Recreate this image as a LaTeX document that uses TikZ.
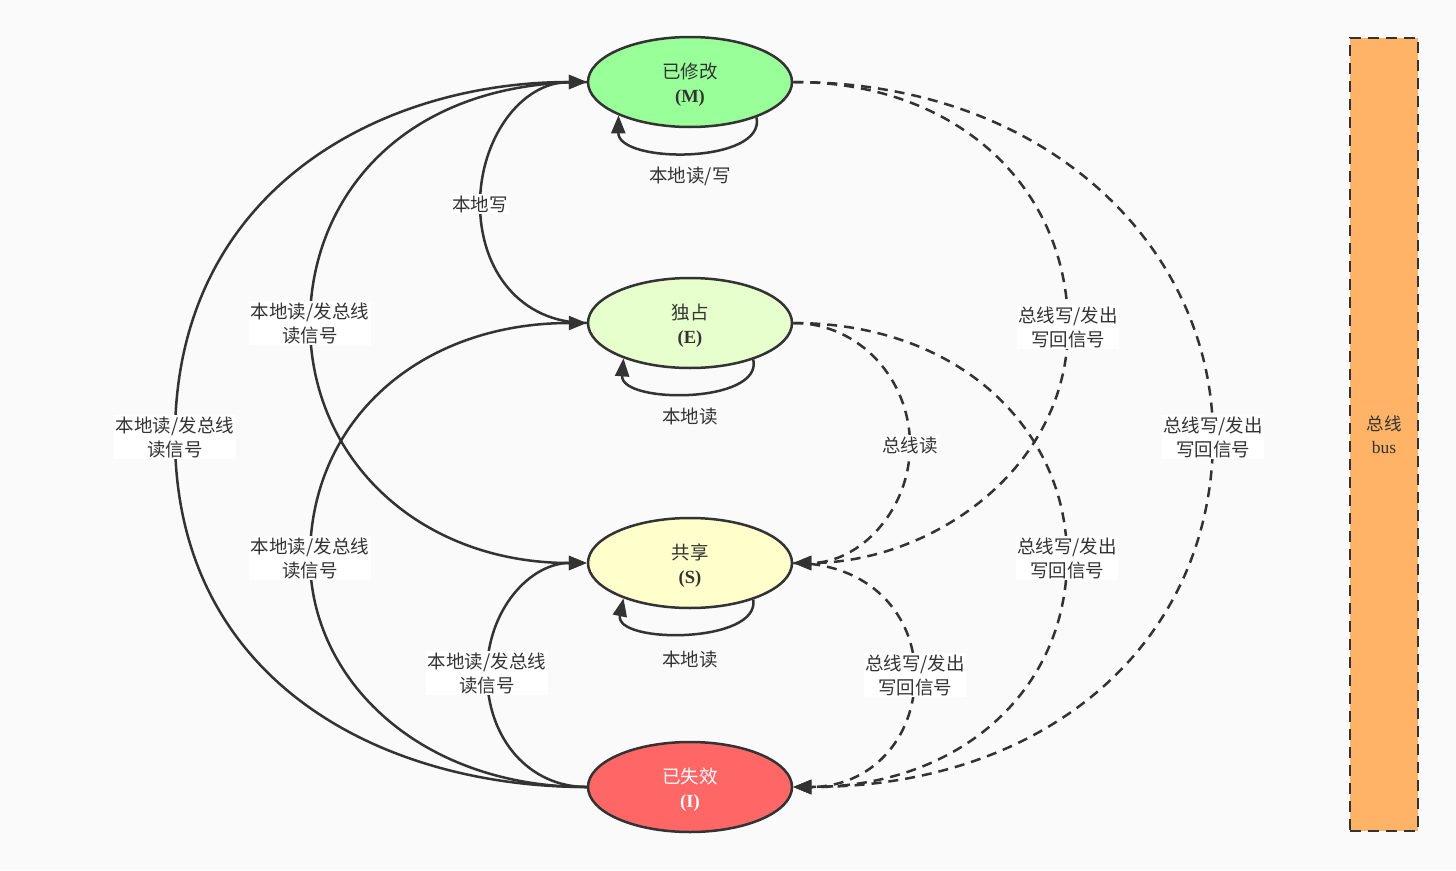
\documentclass[tikz,border=0pt]{standalone}
\usepackage{fontspec}
\setmainfont{Liberation Serif}
\newfontfamily\cjk{Noto Sans CJK SC}
\usetikzlibrary{shapes.geometric,arrows.meta}
\definecolor{bgc}{HTML}{FAFAFA}
\definecolor{linec}{HTML}{333333}
\definecolor{textc}{HTML}{333333}
\definecolor{mfill}{HTML}{99FF99}
\definecolor{efill}{HTML}{E6FFCC}
\definecolor{sfill}{HTML}{FFFFCC}
\definecolor{ifill}{HTML}{FF6666}
\definecolor{busfill}{HTML}{FFB366}
\begin{document}
\begin{tikzpicture}[x=1pt,y=-1pt,
  state/.style={ellipse, draw=linec, line width=2.5pt, minimum width=204pt, minimum height=90pt,
    inner sep=0pt, align=center, font=\fontsize{18.5}{24}\selectfont, text=textc},
  edgeline/.style={line width=2.5pt, draw=linec, -{Triangle[length=18pt,width=14pt]}},
  dedge/.style={edgeline, dash pattern=on 10pt off 7pt},
  lbl/.style={fill=white, inner sep=1.5pt, align=center, font=\fontsize{18.5}{24}\selectfont\cjk, text=textc},
  looplbl/.style={inner sep=1pt, align=center, font=\fontsize{18.5}{24}\selectfont\cjk, text=textc},
  busbox/.style={rectangle, draw=linec, line width=2.6pt, dash pattern=on 11pt off 7pt, fill=busfill,
    minimum width=68pt, minimum height=793pt, inner sep=0pt, align=center,
    font=\fontsize{17.5}{23}\selectfont, text=textc}
]
\fill[bgc] (0,0) rectangle (1456,870);
\useasboundingbox (0,0) rectangle (1456,870);

\node[state, fill=mfill] (M) at (690,82) {\rule{0pt}{20pt}{\cjk 已修改}\\\textbf{(M)}};
\node[state, fill=efill] (E) at (690,323) {\rule{0pt}{20pt}{\cjk 独占}\\\textbf{(E)}};
\node[state, fill=sfill] (S) at (690,563) {\rule{0pt}{20pt}{\cjk 共享}\\\textbf{(S)}};
\node[state, fill=ifill, text=white] (I) at (690,787) {\rule{0pt}{20pt}{\cjk 已失效}\\\textbf{(I)}};

\node[busbox] (bus) at (1384,434.5) {\rule{0pt}{16pt}{\cjk 总线}\\bus};

% self loops
\draw[edgeline] (M.332) .. controls (766,164) and (618,164) .. (M.205);
\node[looplbl] (lm) at (690,176) {本地读/写};
\draw[edgeline] (E.330) .. controls (763,404) and (620,404) .. (E.208);
\node[looplbl] (le) at (690,417) {本地读};
\draw[edgeline] (S.330) .. controls (760,644) and (614,644) .. (S.208);
\node[looplbl] (ls) at (690,660) {本地读};

% solid edges on the left
\draw[edgeline] (I.west) .. controls (380,787) and (175,680) .. (175,437)
  node[lbl] (l1) {本地读/发总线\\读信号}
  .. controls (175,190) and (380,82) .. (M.west);
\draw[edgeline] (M.west) .. controls (400,82) and (310,200) .. (310,323)
  node[lbl] (l2) {本地读/发总线\\读信号}
  .. controls (310,460) and (420,563) .. (S.west);
\draw[edgeline] (I.west) .. controls (420,787) and (310,680) .. (310,558)
  node[lbl] (l3) {本地读/发总线\\读信号}
  .. controls (310,420) and (420,323) .. (E.west);
\draw[edgeline] (E.west) .. controls (520,323) and (480,270) .. (480,204)
  node[lbl] (l4) {本地写}
  .. controls (480,140) and (520,82) .. (M.west);
\draw[edgeline] (I.west) .. controls (530,787) and (487,740) .. (487,673)
  node[lbl] (l5) {本地读/发总线\\读信号}
  .. controls (487,610) and (530,563) .. (S.west);

% dashed edges on the right
\draw[dedge] (M.east) .. controls (960,82) and (1068,190) .. (1068,327)
  node[lbl] (r1) {总线写/发出\\写回信号}
  .. controls (1068,470) and (930,563) .. (S.east);
\draw[dedge] (M.east) .. controls (1050,82) and (1213,250) .. (1213,437)
  node[lbl] (r2) {总线写/发出\\写回信号}
  .. controls (1213,640) and (1050,787) .. (I.east);
\draw[dedge] (E.east) .. controls (860,323) and (910,380) .. (910,445)
  node[lbl] (r3) {总线读}
  .. controls (910,510) and (860,563) .. (S.east);
\draw[dedge] (E.east) .. controls (960,323) and (1067,430) .. (1067,558)
  node[lbl] (r4) {总线写/发出\\写回信号}
  .. controls (1067,690) and (960,787) .. (I.east);
\draw[dedge] (S.east) .. controls (870,563) and (915,615) .. (915,675)
  node[lbl] (r5) {总线写/发出\\写回信号}
  .. controls (915,740) and (870,787) .. (I.east);
\end{tikzpicture}
\end{document}
